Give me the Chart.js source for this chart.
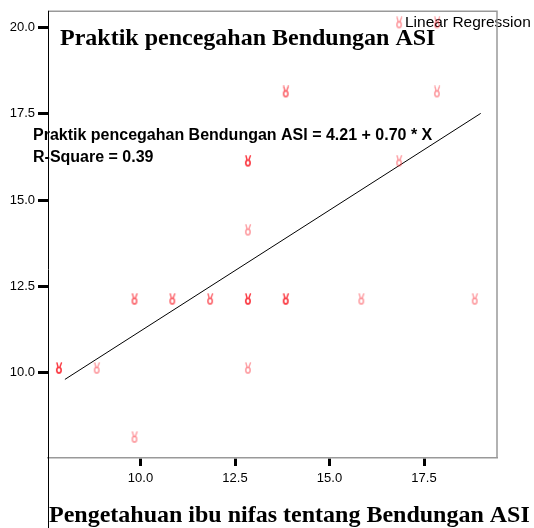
<!DOCTYPE html>
<html>
<head>
<meta charset="utf-8">
<script src="https://cdn.jsdelivr.net/npm/chart.js@4"></script>
<style>
  html, body { margin: 0; padding: 0; background: #fff; }
  #wrap { width: 534px; height: 528px; }
</style>
</head>
<body>
<div id="wrap"><canvas id="scatter" width="534" height="528"></canvas></div>
<script>
// data
const xVals = [8, 9, 10, 10, 11, 12, 13, 13, 13, 13, 14, 14, 16, 17, 17, 18, 18, 19];
const yVals = [10, 10, 8, 12, 12, 12, 10, 12, 14, 16, 12, 18, 12, 16, 20, 18, 20, 12];
const counts = [3, 1, 1, 2, 2, 2, 1, 3, 1, 3, 3, 2, 1, 1, 1, 1, 1, 1];

const lineX = [8, 19];
const lineY = [9.81, 17.51];

const xTicks = [10, 12.5, 15, 17.5];
const yTicks = [10, 12.5, 15, 17.5, 20];

const titleText = 'Praktik pencegahan Bendungan ASI';
const xTitleText = 'Pengetahuan ibu nifas tentang Bendungan ASI';
const eqText = 'Praktik pencegahan Bendungan ASI = 4.21 + 0.70 * X';
const r2Text = 'R-Square = 0.39';
const legendText = 'Linear Regression';

// little "victory hand" marker, sitting up-left of the point like the original
function makeMarker(alpha) {
    let c = document.createElement('canvas');
    c.width = 26;
    c.height = 22;
    let g = c.getContext('2d');
    g.strokeStyle = 'rgba(250,40,50,' + alpha + ')';
    g.lineCap = 'round';
    g.lineWidth = 1.4;
    g.beginPath();
    g.moveTo(5, 1);
    g.lineTo(6, 5);
    g.moveTo(9.5, 1);
    g.lineTo(8, 5);
    g.stroke();
    g.lineWidth = 1.6;
    g.beginPath();
    g.ellipse(7, 8.3, 2.2, 2.8, 0, 0, Math.PI * 2);
    g.stroke();
    return c;
}
const markers = [null, makeMarker(0.45), makeMarker(0.7), makeMarker(0.95)];

const textPlugin = {
    id: 'texts',
    beforeDatasetsDraw(chart) {
        const ctx = chart.ctx;
        const area = chart.chartArea;
        ctx.save();
        ctx.fillStyle = '#000';
        ctx.textBaseline = 'alphabetic';
        ctx.textAlign = 'left';

        ctx.font = 'bold 24px "Liberation Serif"';
        ctx.fillText(titleText, 60, 45);
        ctx.fillText(xTitleText, 49, 522);

        ctx.font = 'bold 16px "Liberation Sans"';
        ctx.fillText(eqText, 33, 140);
        ctx.fillText(r2Text, 33, 162);

        ctx.font = '15.5px "Liberation Sans"';
        ctx.fillText(legendText, 405, 27);

        // frame
        ctx.strokeStyle = '#999';
        ctx.lineWidth = 1.5;
        ctx.beginPath();
        ctx.moveTo(area.left, area.top + 0.5);
        ctx.lineTo(area.right, area.top + 0.5);
        ctx.lineTo(area.right, area.bottom);
        ctx.stroke();

        ctx.strokeStyle = '#000';
        ctx.lineWidth = 1;
        ctx.beginPath();
        ctx.moveTo(area.left + 0.5, area.top);
        ctx.lineTo(area.left + 0.5, 528);
        ctx.stroke();
        ctx.restore();
    }
};

new Chart(document.getElementById('scatter').getContext('2d'), {
    type: 'scatter',
    data: {
        datasets: [{
            label: 'points',
            data: xVals.map((x, i) => ({ x, y: yVals[i] })),
            pointStyle: c => markers[counts[c.dataIndex]],
            pointRadius: 5,
            pointHoverRadius: 5
        }, {
            type: 'line',
            label: legendText,
            data: lineX.map((x, i) => ({ x, y: lineY[i] })),
            borderColor: '#000',
            borderWidth: 1,
            pointRadius: 0,
            fill: false,
            tension: 0
        }]
    },
    options: {
        responsive: false,
        animation: false,
        events: [],
        layout: { padding: { top: 8, right: 37, left: 0, bottom: 0 } },
        plugins: {
            legend: { display: false },
            tooltip: { enabled: false }
        },
        scales: {
            x: {
                type: 'linear',
                min: 7.553,
                max: 19.431,
                afterFit: s => { s.height = 70; },
                afterBuildTicks: s => { s.ticks = xTicks.map(v => ({ value: v })); },
                border: { display: true, color: '#999', width: 1.5 },
                grid: {
                    drawOnChartArea: false,
                    drawTicks: true,
                    tickLength: 8,
                    tickWidth: 3,
                    tickColor: '#000'
                },
                ticks: {
                    autoSkip: false,
                    maxRotation: 0,
                    padding: 5,
                    color: '#000',
                    font: { family: '"Liberation Sans"', size: 13 },
                    callback: v => v.toFixed(1)
                }
            },
            y: {
                type: 'linear',
                min: 7.535,
                max: 20.48,
                afterFit: s => { s.width = 48; },
                afterBuildTicks: s => { s.ticks = yTicks.map(v => ({ value: v })); },
                border: { display: false },
                grid: {
                    drawOnChartArea: false,
                    drawTicks: true,
                    tickLength: 10,
                    tickWidth: 3,
                    tickColor: '#000'
                },
                ticks: {
                    autoSkip: false,
                    padding: 3,
                    color: '#000',
                    font: { family: '"Liberation Sans"', size: 13 },
                    callback: v => v.toFixed(1)
                }
            }
        }
    },
    plugins: [textPlugin]
});
</script>
</body>
</html>
